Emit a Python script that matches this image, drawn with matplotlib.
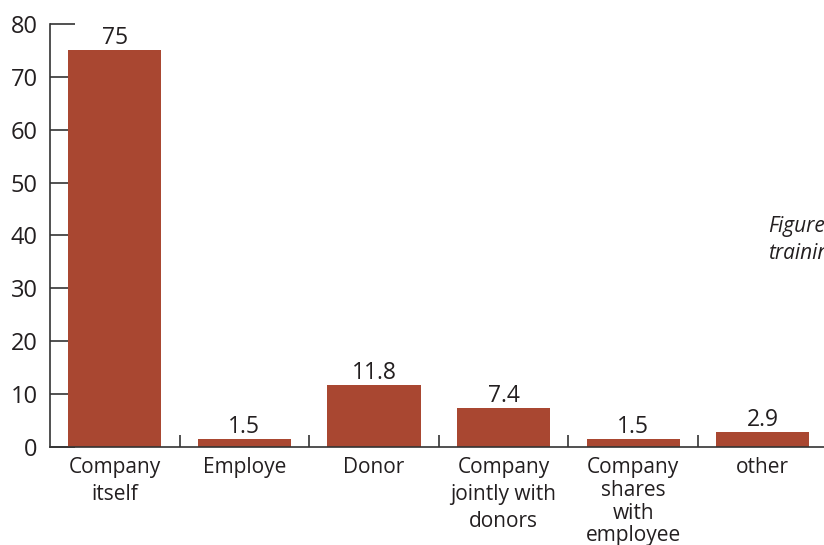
import matplotlib
matplotlib.use("Agg")
import matplotlib.pyplot as plt
import numpy as np

categories = ["Company\nitself", "Employe", "Donor", "Company\njointly with\ndonors",
              "Company\nshares\nwith\nemployee", "other"]
values = [75, 1.5, 11.8, 7.4, 1.5, 2.9]
value_labels = ["75", "1.5", "11.8", "7.4", "1.5", "2.9"]
yticks = [0, 10, 20, 30, 40, 50, 60, 70, 80]

plt.rcParams['font.family'] = ['Open Sans', 'DejaVu Sans']
bar_color = '#A94731'
text_color = '#231f20'

fig = plt.figure(figsize=(8.24, 5.45), dpi=100)
ax = fig.add_axes([50/824, 98/545, 777.6/824, 423/545])

x = np.arange(len(categories))
ax.bar(x, values, width=0.72, color=bar_color, zorder=2)
for xi, v, lab in zip(x, values, value_labels):
    ax.annotate(lab, (xi, v), xytext=(0, 0), textcoords='offset points',
                ha='center', va='bottom', fontsize=16.5, color=text_color)

ax.set_xlim(-0.5, 5.5)
ax.set_ylim(0, 80)
ax.set_yticks(yticks)
ax.set_xticks(x)
ax.set_xticklabels(categories)
ax.set_xticks(x[:-1] + 0.5, minor=True)
for i, t in enumerate(ax.get_xticklabels()):
    t.set_linespacing(1.1 if i == 4 else 1.35)

for s in ['top', 'right']:
    ax.spines[s].set_visible(False)
for s in ['left', 'bottom']:
    ax.spines[s].set_color('#333333')
    ax.spines[s].set_linewidth(1.2)
    ax.spines[s].set_zorder(3)

ax.tick_params(axis='y', direction='in', length=18, width=1.2, color='#333333',
               labelsize=17, labelcolor=text_color, pad=9)
ax.tick_params(axis='x', which='major', length=0, labelsize=15,
               labelcolor=text_color, pad=7.5)
ax.tick_params(axis='x', which='minor', direction='in', length=9, width=1.2,
               color='#333333')

# caption sits half outside the figure, cut off like in the source image
fig.text(768/824, 1 - 240/545, "Figure\ntraining", style='italic', fontsize=15,
         color=text_color, ha='left', va='center', linespacing=1.35)

fig.savefig("out.png", dpi=100)
